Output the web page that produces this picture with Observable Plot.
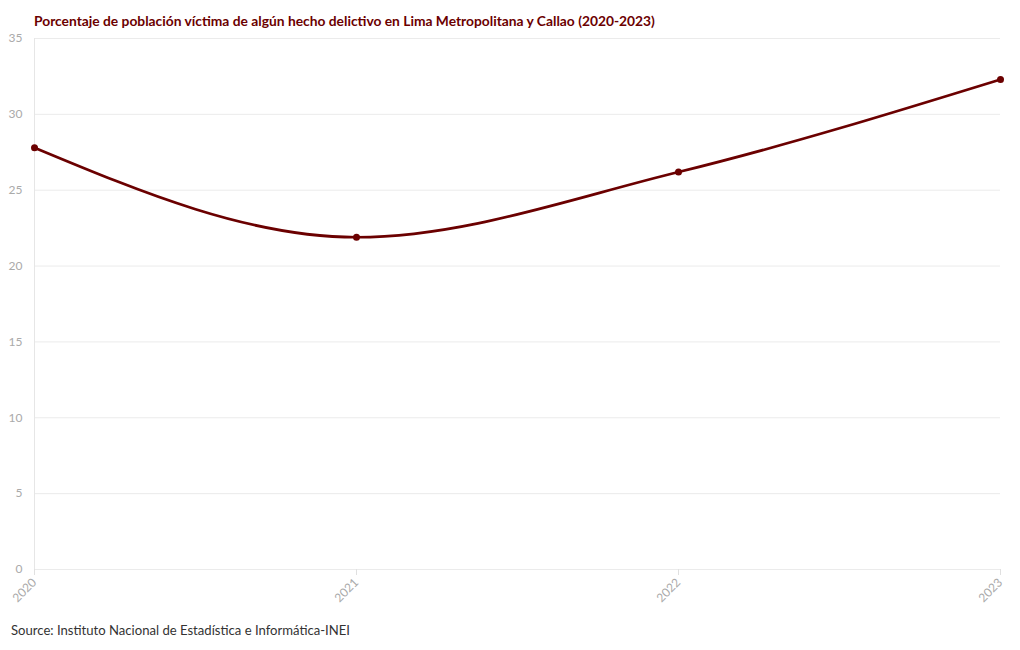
<!DOCTYPE html>
<html>
<head>
<meta charset="utf-8">
<script src="https://cdn.jsdelivr.net/npm/d3@7"></script>
<script src="https://cdn.jsdelivr.net/npm/@observablehq/plot@0.6"></script>
<style>
  body { margin: 0; background: #fff; font-family: Lato, "Open Sans", sans-serif; }
  #wrap { position: relative; width: 1020px; height: 650px; }
  #title { position: absolute; left: 34px; top: 12px; font-size: 13.8px; font-weight: bold; color: #6b0000; white-space: nowrap; }
  #chart { position: absolute; left: 0; top: 30px; }
  #source { position: absolute; left: 11px; top: 622px; font-size: 13.1px; color: #333; white-space: nowrap; }
</style>
</head>
<body>
<div id="wrap">
  <div id="title">Porcentaje de población víctima de algún hecho delictivo en Lima Metropolitana y Callao (2020-2023)</div>
  <div id="chart"></div>
  <div id="source">Source: Instituto Nacional de Estadística e Informática-INEI</div>
</div>
<script>
const years = [2020, 2021, 2022, 2023];
const values = [27.8, 21.9, 26.2, 32.3];
const yTicks = [0, 5, 10, 15, 20, 25, 30, 35];

const data = years.map((y, i) => ({year: y, value: values[i]}));
const color = "#6b0000";

const chart = Plot.plot({
  width: 1020,
  height: 580,
  marginLeft: 34,
  marginRight: 20,
  marginTop: 8,
  marginBottom: 41,
  style: {fontFamily: "Lato, 'Open Sans', sans-serif", fontSize: "12px", background: "transparent"},
  x: {domain: [2020, 2023], ticks: years, tickFormat: d => String(d)},
  y: {domain: [0, 35], ticks: yTicks},
  marks: [
    Plot.ruleY(yTicks, {stroke: "#ebebeb", strokeWidth: 1}),
    Plot.ruleX([2020], {stroke: "#e6e6e6", strokeWidth: 1}),
    Plot.axisY({ticks: yTicks, tickSize: 0, tickPadding: 12, color: "#aaa", fontSize: 12, label: null}),
    Plot.axisX({ticks: years, tickFormat: d => String(d), tickSize: 6, stroke: "#e0e0e0", color: "#aaa", tickRotate: -45, tickPadding: 5, fontSize: 12, label: null}),
    Plot.line(data, {x: "year", y: "value", stroke: color, strokeWidth: 2.7, curve: "monotone-x"}),
    Plot.dot(data, {x: "year", y: "value", fill: color, r: 3.5})
  ]
});
document.getElementById("chart").appendChild(chart);
</script>
</body>
</html>
